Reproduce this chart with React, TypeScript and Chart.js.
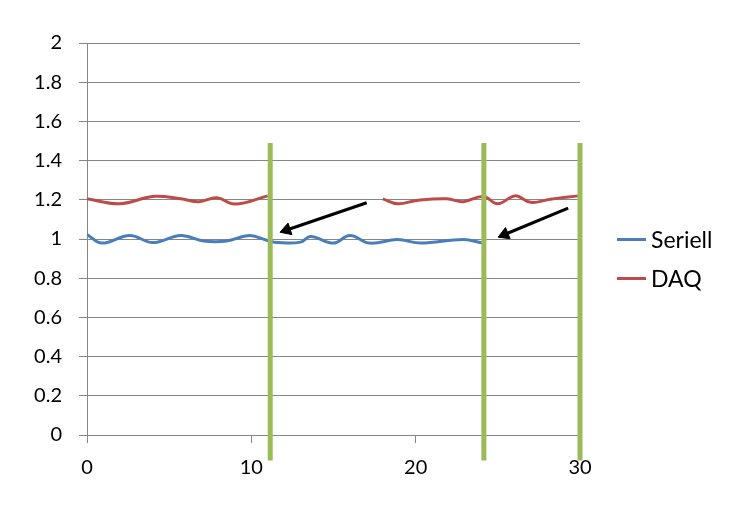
import React, { useEffect, useRef } from 'react';
import { Chart, registerables } from 'chart.js';

Chart.register(...registerables);

// ---- data ----
const seriellX = [0, 0.9, 2.6, 4.0, 5.7, 7.1, 8.5, 9.9, 11.0, 11.6, 13.0, 13.6, 15.0, 16.0, 17.2, 18.9, 20.3, 22.9, 24.1];
const seriellY = [1.023, 0.979, 1.018, 0.982, 1.018, 0.99, 0.99, 1.018, 0.992, 0.982, 0.984, 1.013, 0.979, 1.018, 0.979, 0.997, 0.979, 0.997, 0.979];

const daqX = [0, 2.0, 4.1, 5.7, 6.8, 7.9, 9.0, 11.0, 14.5, 18.0, 18.9, 20.1, 21.9, 22.9, 24.1, 25.0, 26.05, 27.0, 28.2, 29.9];
const daqY: (number | null)[] = [1.205, 1.18, 1.218, 1.205, 1.19, 1.21, 1.178, 1.22, null, 1.205, 1.18, 1.197, 1.205, 1.19, 1.217, 1.18, 1.22, 1.187, 1.203, 1.22];

const markerX = [11.15, 24.15, 30];
const markerYRange = [-0.13, 1.49];

const arrowTails = [[17.02, 1.185], [29.28, 1.157]];
const arrowHeads = [[12.15, 1.046], [25.41, 1.023]];
const arrowAngles = [251.3, 247.5];

const xTickLabels = ['0', '10', '20', '30'];
const yTickLabels = ['0', '0.2', '0.4', '0.6', '0.8', '1', '1.2', '1.4', '1.6', '1.8', '2'];

const seriesNames = ['Seriell', 'DAQ'];
const seriesColors = ['#4A7EBB', '#BE4B48'];

const FONT = 'Lato, "Open Sans", sans-serif';

export default function App() {
  const canvasRef = useRef<HTMLCanvasElement | null>(null);

  useEffect(() => {
    const canvas = canvasRef.current;
    if (!canvas) return;

    const markerSets = markerX.map((mx) => ({
      label: 'marker',
      data: markerYRange.map((y) => ({ x: mx, y })),
      showLine: true,
      borderColor: '#9BBB59',
      borderWidth: 5,
      pointRadius: 0,
      clip: false as any,
      order: 0,
    }));

    const arrowSets = arrowTails.map((t, i) => ({
      label: 'arrow',
      data: [{ x: t[0], y: t[1] }, { x: arrowHeads[i][0], y: arrowHeads[i][1] }],
      showLine: true,
      borderColor: '#000000',
      backgroundColor: '#000000',
      borderWidth: 3,
      pointRadius: [0, 7],
      pointStyle: 'triangle',
      rotation: [0, arrowAngles[i]],
      pointBorderWidth: 1,
      order: 0,
    }));

    const chart = new Chart(canvas, {
      type: 'scatter',
      data: {
        datasets: [
          ...markerSets,
          ...arrowSets,
          {
            label: seriesNames[0],
            data: seriellX.map((x, i) => ({ x, y: seriellY[i] })),
            showLine: true,
            borderColor: seriesColors[0],
            borderWidth: 3,
            pointRadius: 0,
            tension: 0.4,
            order: 1,
          },
          {
            label: seriesNames[1],
            data: daqX.map((x, i) => ({ x, y: daqY[i] as any })),
            showLine: true,
            spanGaps: false,
            borderColor: seriesColors[1],
            borderWidth: 3,
            pointRadius: 0,
            tension: 0.4,
            order: 1,
          },
        ] as any,
      },
      options: {
        animation: false,
        responsive: false,
        layout: { padding: { top: 35, right: 163, left: 0, bottom: 0 } },
        plugins: {
          legend: { display: false },
          tooltip: { enabled: false },
        },
        scales: {
          x: {
            type: 'linear',
            min: 0,
            max: 30,
            afterFit: (s: any) => { s.height = 81; },
            grid: { drawOnChartArea: false, drawTicks: true, tickLength: 8, color: '#868686' },
            border: { color: '#868686', width: 1 },
            ticks: {
              stepSize: 10,
              padding: 13,
              color: '#000000',
              font: { family: FONT, size: 20 },
              maxRotation: 0,
              callback: (_v: any, i: number) => xTickLabels[i],
            },
          },
          y: {
            type: 'linear',
            min: 0,
            max: 2,
            afterFit: (s: any) => { s.width = 79; },
            grid: { drawOnChartArea: true, drawTicks: true, tickLength: 8, color: '#868686' },
            border: { color: '#868686', width: 1 },
            ticks: {
              stepSize: 0.2,
              padding: 17,
              color: '#000000',
              font: { family: FONT, size: 20 },
              callback: (_v: any, i: number) => yTickLabels[i],
            },
          },
        },
      },
    });

    return () => chart.destroy();
  }, []);

  const legendRows = seriesNames.map((name, i) => (
    <div
      key={name}
      style={{
        position: 'absolute',
        left: 609,
        top: (i === 0 ? 231 : 270) - 14,
        height: 28,
        display: 'flex',
        alignItems: 'center',
        fontFamily: FONT,
        fontSize: 23,
        color: '#000',
        whiteSpace: 'nowrap',
      }}
    >
      <span style={{ display: 'inline-block', width: 29, height: 3, background: seriesColors[i], marginRight: 5 }} />
      <span>{name}</span>
    </div>
  ));

  return (
    <div style={{ position: 'relative', width: 735, height: 508 }}>
      <canvas ref={canvasRef} width={735} height={508} />
      {legendRows}
    </div>
  );
}
